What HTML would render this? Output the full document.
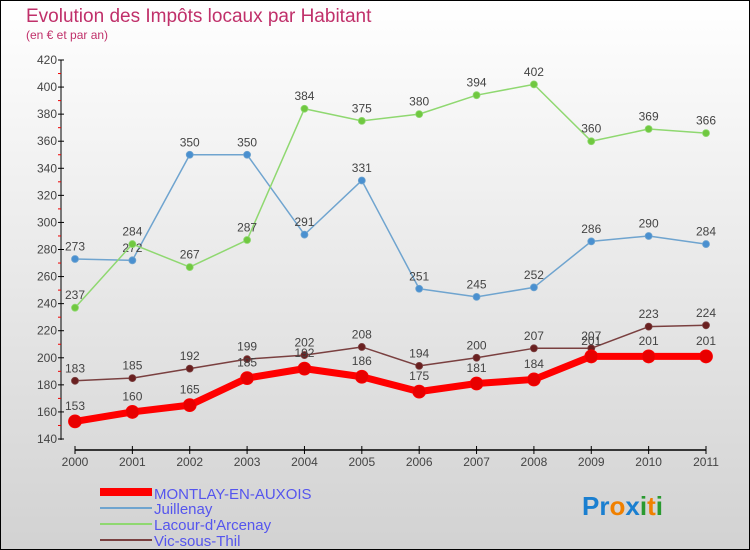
<!DOCTYPE html>
<html><head><meta charset="utf-8"><style>
body{margin:0}
#c{width:750px;height:550px;position:relative;box-sizing:border-box;border:1px solid #000;background:linear-gradient(#fff,#d2d2d2);font-family:"Liberation Sans",sans-serif;overflow:hidden}
</style></head><body>
<div id="c">
<svg id="s" width="748" height="548" viewBox="1 1 748 548" font-family="Liberation Sans, sans-serif">
<text x="26" y="22" font-size="19" fill="#c0306a">Evolution des Impôts locaux par Habitant</text>
<text x="26" y="39" font-size="12" fill="#c0306a">(en € et par an)</text>
<g id="axes"></g><g id="series"></g>
<g>
<rect x="100" y="488" width="52" height="8" fill="#f00"/>
<text x="154" y="499" font-size="15" fill="#5555ee">MONTLAY-EN-AUXOIS</text>
<rect x="100" y="507" width="52" height="2" fill="#6fa4cf"/>
<text x="154" y="514" font-size="15" fill="#5555ee">Juillenay</text>
<rect x="100" y="523" width="52" height="2" fill="#8fd870"/>
<text x="154" y="530" font-size="15" fill="#5555ee">Lacour-d'Arcenay</text>
<rect x="100" y="539" width="52" height="2" fill="#7a4040"/>
<text x="154" y="546" font-size="15" fill="#5555ee">Vic-sous-Thil</text>
</g>
<text x="582" y="515" font-size="26" font-weight="bold"><tspan fill="#1a7fd0">Pr</tspan><tspan fill="#f08000">o</tspan><tspan fill="#1a7fd0">x</tspan><tspan fill="#2a9a30">i</tspan><tspan fill="#f08000">t</tspan><tspan fill="#2a9a30">i</tspan></text>
</svg>
</div>
<script>
const years=["2000","2001","2002","2003","2004","2005","2006","2007","2008","2009","2010","2011"];
const yTicks=[140,160,180,200,220,240,260,280,300,320,340,360,380,400,420];
const montlay=[153,160,165,185,192,186,175,181,184,201,201,201];
const juillenay=[273,272,350,350,291,331,251,245,252,286,290,284];
const lacour=[237,284,267,287,384,375,380,394,402,360,369,366];
const vic=[183,185,192,199,202,208,194,200,207,207,223,224];
const NS="http://www.w3.org/2000/svg";
const X=i=>75+i*(631/11);
const Y=v=>439-(v-140)*(379/280);
function mk(t,a,p){const e=document.createElementNS(NS,t);for(const k in a)e.setAttribute(k,a[k]);p.appendChild(e);return e;}
const ax=document.getElementById('axes');
const yl=mk('line',{x1:61,y1:60,x2:61,y2:440,stroke:'#000'},ax);


yTicks.forEach((v,i)=>{
 mk('line',{x1:58,x2:64,y1:Y(v),y2:Y(v),stroke:'#000'},ax);
 if(i<yTicks.length-1)mk('line',{x1:58,x2:61,y1:Y(v+10),y2:Y(v+10),stroke:'#e00'},ax);
 const t=mk('text',{x:57,y:Y(v)+4,'text-anchor':'end','font-size':12,fill:'#444'},ax);t.textContent=v;
 
 
});
const xl=mk('line',{x1:75,y1:450,x2:706,y2:450,stroke:'#000','stroke-width':1.5},ax);


years.forEach((y,i)=>{
 mk('line',{x1:X(i),x2:X(i),y1:446,y2:454,stroke:'#000'},ax);
 const t=mk('text',{x:X(i),y:466,'text-anchor':'middle','font-size':12,fill:'#444'},ax);t.textContent=y;
 
 
});
const sg=document.getElementById('series');
function draw(d,name,col,w,r,dot){
 const g=mk('g',{},sg);
 
 
 const pl=mk('polyline',{points:d.map((v,i)=>X(i)+','+Y(v)).join(' '),fill:'none',stroke:col,'stroke-width':w,'stroke-linejoin':'round'},g);
 
 
 d.forEach((v,i)=>{
  const c=mk('circle',{cx:X(i),cy:Y(v),r:r,fill:dot,stroke:col,'stroke-width':0.8},g);
  
  
  const t=mk('text',{x:X(i),y:Y(v)-(r+5),'text-anchor':'middle','font-size':12,fill:'#444'},g);t.textContent=v;
  
  
 });
}
draw(juillenay,'juillenay','#6fa4cf',1.5,3.5,'#4a90d0');
draw(lacour,'lacour','#8fd870',1.5,3.5,'#70c840');
draw(vic,'vic','#7a4040',1.5,3.5,'#6a2020');
draw(montlay,'montlay','#f00',7,6.5,'#e80000');
</script>
</body></html>
